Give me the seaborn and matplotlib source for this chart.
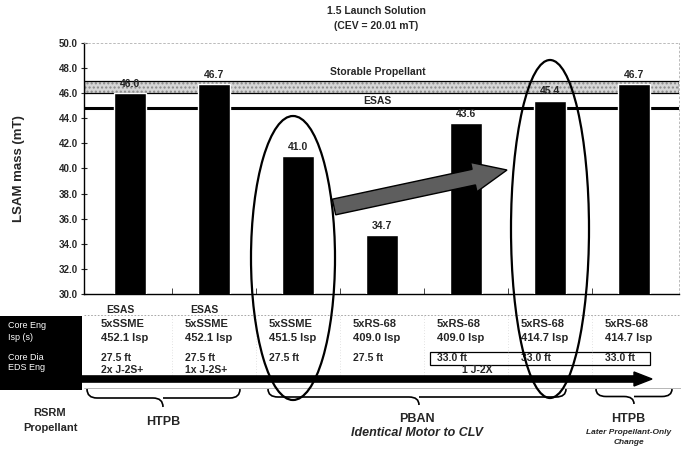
import numpy as np
import pandas as pd
import matplotlib
matplotlib.use("Agg")
import matplotlib.pyplot as plt
import matplotlib.transforms as mtransforms
from matplotlib.patches import Rectangle, Ellipse, FancyArrow, PathPatch, Polygon
from matplotlib.path import Path
import seaborn as sns

# ---------------- data ----------------
configs = ["ESAS 2xJ-2S+", "ESAS 1xJ-2S+", "5xSSME 27.5ft", "5xRS-68 27.5ft",
           "5xRS-68 33.0ft", "5xRS-68 414.7 PBAN", "5xRS-68 414.7 HTPB"]
lsam_mass = [46.0, 46.7, 41.0, 34.7, 43.6, 45.4, 46.7]
col_headers = ["ESAS", "ESAS", "", "", "", "", ""]
core_eng = ["5xSSME", "5xSSME", "5xSSME", "5xRS-68", "5xRS-68", "5xRS-68", "5xRS-68"]
isp_vals = [452.1, 452.1, 451.5, 409.0, 409.0, 414.7, 414.7]
core_dia = [27.5, 27.5, 27.5, 27.5, 33.0, 33.0, 33.0]
eds_eng = ["2x J-2S+", "1x J-2S+", "", "", "1 J-2X", "", ""]
row_labels = ["Core Eng", "Isp (s)", "Core Dia", "EDS Eng"]
storable_band = (46.0, 47.0)
esas_level = 44.8
yticks = [30.0, 32.0, 34.0, 36.0, 38.0, 40.0, 42.0, 44.0, 46.0, 48.0, 50.0]

df = pd.DataFrame({"config": configs, "mass": lsam_mass})

# ---------------- style ----------------
sns.set_style("white")
plt.rcParams['font.family'] = ['Liberation Sans Narrow', 'Liberation Sans', 'DejaVu Sans']
plt.rcParams['font.weight'] = 'bold'

W, H = 681, 453
fig = plt.figure(figsize=(W / 100, H / 100), dpi=100)
ax = fig.add_axes([84 / W, 1 - 294 / H, 595 / W, 251 / H])

sns.barplot(data=df, x="config", y="mass", color="black", width=0.39,
            saturation=1, ax=ax, zorder=3)
ax.set_xlim(-0.548, 6.536)
ax.set_ylim(30, 50)
ax.set_yticks(yticks)
ax.set_yticklabels([f"{v:.1f}" for v in yticks], fontsize=7, fontweight='bold')
ax.set_xticks([i + 0.5 for i in range(len(configs) - 1)])
ax.set_xticklabels([])
ax.tick_params(axis='y', direction='inout', length=5, width=0.8, pad=2, left=True)
ax.tick_params(axis='x', direction='in', length=4, width=0.6, bottom=True)
ax.set_xlabel("")
ax.set_ylabel("LSAM mass (mT)", fontsize=9.5, fontweight='bold',
              family=['Liberation Sans', 'DejaVu Sans'], labelpad=24)
for s in ["top", "right"]:
    ax.spines[s].set_visible(True)
    ax.spines[s].set_color("#b0b0b0")
    ax.spines[s].set_linestyle((0, (2, 3)))
    ax.spines[s].set_linewidth(0.6)
for s in ["left", "bottom"]:
    ax.spines[s].set_color("black")
    ax.spines[s].set_linewidth(1.0)

# storable propellant band
ax.axhspan(*storable_band, facecolor="#d6d6d6", edgecolor="#8a8a8a", hatch="....",
           linewidth=0, zorder=1)
ax.axhspan(*storable_band, facecolor="none", edgecolor="black", linewidth=0.9, zorder=1.5)
ax.axhline(esas_level, color="black", linewidth=2.2, zorder=2)
ax.text(2.95, storable_band[1] + 0.3, "Storable Propellant", ha="center", va="bottom",
        fontsize=7.5, fontweight="bold", zorder=4)
ax.text(2.95, esas_level + 0.15, "ESAS", ha="center", va="bottom",
        fontsize=7.5, fontweight="bold", zorder=4)

# value labels
for i, v in enumerate(lsam_mass):
    ax.text(i, v + 0.35, f"{v:.1f}", ha="center", va="bottom", fontsize=7.5,
            fontweight="bold", zorder=5)

# title
fig.text(376 / W, 1 - 11 / H, "1.5 Launch Solution", ha="center", va="center",
         fontsize=7.5, fontweight="bold")
fig.text(376 / W, 1 - 26 / H, "(CEV = 20.01 mT)", ha="center", va="center",
         fontsize=7.5, fontweight="bold")

# ---------------- overlay (pixel coordinates) ----------------
ov = fig.add_axes([0, 0, 1, 1], facecolor="none")
ov.set_xlim(0, W)
ov.set_ylim(H, 0)
ov.axis("off")
ov.set_zorder(10)
bt = mtransforms.blended_transform_factory(ax.transData, ov.transData)

# table frame
ov.plot([84, W], [315, 315], color="#9a9a9a", lw=0.6, ls=(0, (2, 2)))
for i in range(len(configs) - 1):
    ov.plot([i + 0.5, i + 0.5], [316, 375], color="#c8c8c8", lw=0.5,
            ls=(0, (1, 3)), transform=bt)
ov.add_patch(Rectangle((0, 316), 82, 74, facecolor="black", edgecolor="none"))
row_y = [325, 338, 358, 367]
for lab, y in zip(row_labels, row_y):
    ov.text(8, y, lab, color="white", fontsize=6.5, fontweight="normal",
            family=['Liberation Sans', 'DejaVu Sans'], va="center", ha="left")

dx_left = -0.35
for i in range(len(configs)):
    if col_headers[i]:
        ov.text(i - 0.12, 310, col_headers[i], transform=bt, ha="center", va="center",
                fontsize=7.5, fontweight="bold")
    ov.text(i + dx_left, 324, core_eng[i], transform=bt, ha="left", va="center",
            fontsize=8, fontweight="bold")
    ov.text(i + dx_left, 338, f"{isp_vals[i]:.1f} Isp", transform=bt, ha="left",
            va="center", fontsize=8, fontweight="bold")
    ov.text(i + dx_left, 358, f"{core_dia[i]:.1f} ft", transform=bt, ha="left",
            va="center", fontsize=7.5, fontweight="bold")
    if eds_eng[i]:
        ov.text(i + dx_left + (0.3 if i == 4 else 0), 370, eds_eng[i], transform=bt,
                ha="left", va="center", fontsize=7.5, fontweight="bold")

# box round the 33.0 ft cells
ov.add_patch(Rectangle((430, 352), 220, 13, facecolor="none", edgecolor="black", lw=0.9))

# thick black line with arrow
ov.plot([0, 640], [379, 379], color="black", lw=5.5, solid_capstyle="butt", zorder=6)
ov.add_patch(Polygon([(634, 372), (652, 379), (634, 386)], closed=True,
                     facecolor="black", edgecolor="black", zorder=6))
ov.plot([84, W], [388, 388], color="#9a9a9a", lw=0.5, zorder=5)


def brace(x0, x1, xm, y0, y1):
    ym = (y0 + y1) / 2
    r = min(10, (xm - x0) / 3, (x1 - xm) / 3)
    verts = [(x0, y0), (x0, ym), (x0 + r, ym), (x0 + r, ym),
             (xm - r, ym), (xm, ym), (xm, y1),
             (xm, ym), (xm + r, ym), (xm + r, ym),
             (x1 - r, ym), (x1, ym), (x1, y0)]
    codes = [Path.MOVETO, Path.CURVE3, Path.CURVE3, Path.LINETO,
             Path.LINETO, Path.CURVE3, Path.CURVE3,
             Path.MOVETO, Path.CURVE3, Path.CURVE3,
             Path.LINETO, Path.CURVE3, Path.CURVE3]
    ov.add_patch(PathPatch(Path(verts, codes), facecolor="none", edgecolor="black",
                           lw=1.2, zorder=7))


brace(87, 240, 163, 389, 407)
brace(268, 566, 419, 389, 405)
brace(596, 672, 634, 389, 404)

ov.text(50, 413, "RSRM", ha="center", va="center", fontsize=8, fontweight="bold")
ov.text(50, 428, "Propellant", ha="center", va="center", fontsize=8, fontweight="bold")
ov.text(163, 422, "HTPB", ha="center", va="center", fontsize=9, fontweight="bold")
ov.text(417, 419, "PBAN", ha="center", va="center", fontsize=9, fontweight="bold")
ov.text(417, 433, "Identical Motor to CLV", ha="center", va="center", fontsize=9,
        fontweight="bold", style="italic")
ov.text(628, 419, "HTPB", ha="center", va="center", fontsize=9, fontweight="bold")
ov.text(629, 432, "Later Propellant-Only", ha="center", va="center", fontsize=6,
        fontweight="bold", style="italic")
ov.text(629, 443, "Change", ha="center", va="center", fontsize=6,
        fontweight="bold", style="italic")

# ellipses
ov.add_patch(Ellipse((293, 258), 84, 284, facecolor="none", edgecolor="black",
                     lw=1.6, zorder=8))
ov.add_patch(Ellipse((550, 229), 78, 338, facecolor="none", edgecolor="black",
                     lw=1.6, zorder=8))

# big arrow
ov.add_patch(FancyArrow(334, 207, 173, -37, width=16, head_width=30, head_length=34,
                        length_includes_head=True, facecolor="#5e5e5e",
                        edgecolor="black", lw=1.0, zorder=7))

fig.savefig("out.png", dpi=100)
